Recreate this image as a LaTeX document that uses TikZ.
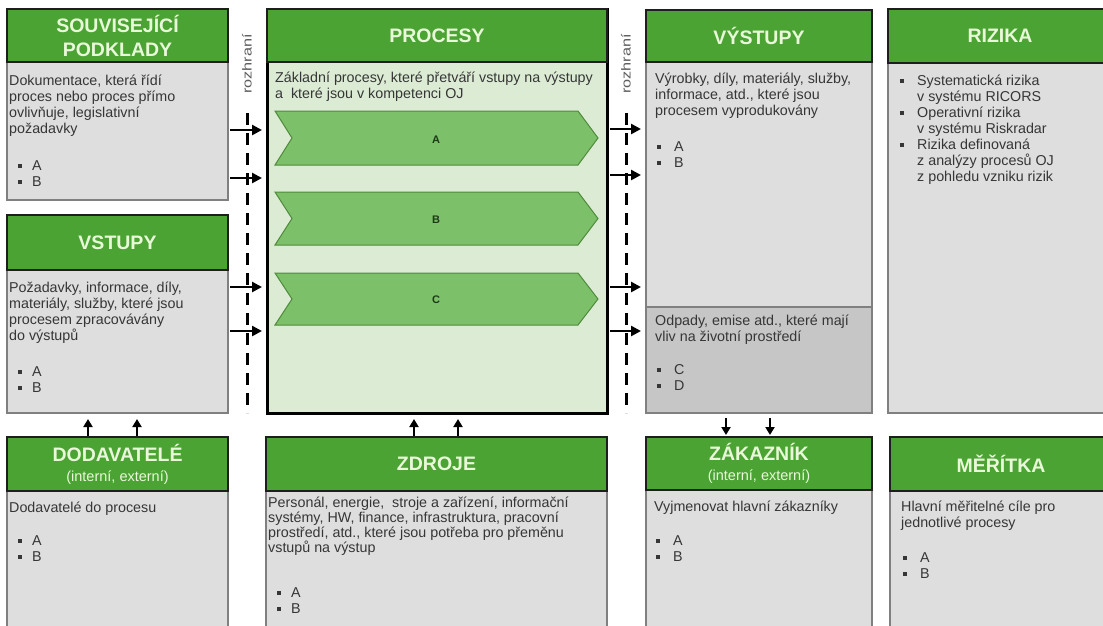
\documentclass[tikz,border=0pt]{standalone}
\usepackage{fontspec}
\setmainfont{Liberation Sans}
\usetikzlibrary{arrows.meta}

\definecolor{hdrgreen}{HTML}{4AA332}
\definecolor{hdrtext}{HTML}{E9F8D9}
\definecolor{hdrline}{HTML}{1E1E1E}
\definecolor{bodygray}{HTML}{DEDEDE}
\definecolor{bodyline}{HTML}{808080}
\definecolor{wastegray}{HTML}{C6C6C6}
\definecolor{procfill}{HTML}{DCECD4}
\definecolor{chevfill}{HTML}{7CC06A}
\definecolor{chevline}{HTML}{4F8A3C}
\definecolor{chevtext}{HTML}{1C3A14}
\definecolor{bodytextc}{HTML}{363636}
\definecolor{ifacetext}{HTML}{5E5E5E}

% small square bullet followed by the item text (left-hand panels)
\newcommand\bul[1]{\hspace*{9pt}\rule[3pt]{4pt}{4pt}\hspace*{10pt}#1}
% same, for the right-hand panels
\newcommand\rbul[1]{\hspace*{2pt}\rule[3pt]{4pt}{4pt}\hspace*{13pt}#1}
% bullet with a hanging continuation
\newcommand\hbul{\hspace*{9pt}\rule[3pt]{4pt}{4pt}\hspace*{13pt}}
\newcommand\hcont{\hspace*{26pt}}
\newcommand\firstln{\rule{0pt}{10pt}}

% one panel: body rectangle plus green header
% #1 body options, #2 name, #3 x1, #4 y1, #5 x2, #6 y2, #7 header bottom, #8 title
\newcommand\ipobox[8]{%
  \node[bodybox, #1, anchor=north west, minimum width={(#5-#3)*1pt},
        minimum height={(#6-#4)*1pt}] (#2) at (#3,#4) {};
  \node[hdrbox, anchor=north west, minimum width={(#5-#3)*1pt},
        minimum height={(#7-#4)*1pt}] (#2h) at (#3,#4) {#8};
}

\begin{document}
\begin{tikzpicture}[x=1pt, y=-1pt,
  bodybox/.style={rectangle, fill=bodygray, draw=bodyline, line width=1.5pt, outer sep=0pt, inner sep=0pt},
  hdrbox/.style={rectangle, fill=hdrgreen, draw=hdrline, line width=2pt, outer sep=0pt, inner sep=1pt,
    text=hdrtext, align=center, font=\bfseries\fontsize{19.5}{24}\selectfont},
  bodytext/.style={anchor=north west, inner sep=0pt, align=left, text=bodytextc,
    font=\fontsize{14.3}{16}\selectfont},
  chev/.style={fill=chevfill, draw=chevline, line width=1pt, line join=miter},
  chevlbl/.style={inner sep=0pt, text=chevtext, font=\bfseries\fontsize{11}{13}\selectfont},
  iface/.style={line width=3pt, dash pattern=on 12pt off 8pt},
  ifacelbl/.style={inner sep=0pt, rotate=90, text=ifacetext, font=\fontsize{13}{15}\selectfont},
  harr/.style={line width=2.6pt, -{Triangle[length=10pt, width=10pt]}},
  varr/.style={line width=2pt, -{Triangle[length=8pt, width=9pt]}}
]
\useasboundingbox (0,0) rectangle (1103,625);
\clip (0,0) rectangle (1103,625);
\fill[white] (0,0) rectangle (1103,625);

% ---- panels ----
\ipobox{}{souv}{7}{9}{228}{200}{62}{SOUVISEJÍCÍ\\PODKLADY}
\ipobox{}{vst}{7}{215}{228}{413}{270}{VSTUPY}
\ipobox{}{dod}{7}{437}{228}{650}{491}{DODAVATELÉ\\[-4pt]{\mdseries\fontsize{14.5}{16}\selectfont(interní, externí)}}
\ipobox{fill=procfill, draw=black, line width=3pt}{proc}{267}{9}{607}{413}{62}{PROCESY}
\ipobox{}{zdr}{266}{437}{607}{650}{491}{ZDROJE}
\ipobox{}{vys}{646}{10}{872}{413}{62}{VÝSTUPY}
\ipobox{}{zak}{646}{437}{872}{650}{490}{ZÁKAZNÍK\\[-4pt]{\mdseries\fontsize{14.5}{16}\selectfont(interní, externí)}}
\ipobox{}{riz}{888}{9}{1112}{413}{63}{RIZIKA}
\ipobox{}{mer}{890}{437}{1112}{650}{491}{MĚŘÍTKA}

% waste section at the bottom of the outputs panel
\node[bodybox, fill=wastegray, anchor=north west, minimum width=226pt, minimum height=106pt]
  (waste) at (646,307) {};

% ---- panel texts ----
\node[bodytext] (souvt) at (9,75) {\firstln Dokumentace, která řídí\\proces nebo proces přímo\\ovlivňuje, legislativní\\požadavky\\[21pt]\bul{A}\\\bul{B}};
\node[bodytext] (vstt) at (9,282) {\firstln Požadavky, informace, díly,\\materiály, služby, které jsou\\procesem zpracovávány\\do výstupů\\[20pt]\bul{A}\\\bul{B}};
\node[bodytext] (proct) at (275,72) {\firstln Základní procesy, které přetváří vstupy na výstupy\\a\ \ které jsou v kompetenci OJ};
\node[bodytext] (vyst) at (655,73) {\firstln Výrobky, díly, materiály, služby,\\informace, atd., které jsou\\procesem vyprodukovány\\[20pt]\rbul{A}\\\rbul{B}};
\node[bodytext] (wastet) at (655,315) {\firstln Odpady, emise atd., které mají\\vliv na životní prostředí\\[17pt]\rbul{C}\\\rbul{D}};
\node[bodytext] (rizt) at (891,75) {\firstln\hbul Systematická rizika\\\hcont v systému RICORS\\\hbul Operativní rizika\\\hcont v systému Riskradar\\\hbul Rizika definovaná\\\hcont z analýzy procesů OJ\\\hcont z pohledu vzniku rizik};
\node[bodytext] (dodt) at (9,502) {\firstln Dodavatelé do procesu\\[17pt]\bul{A}\\\bul{B}};
\node[bodytext, font=\fontsize{14.3}{15}\selectfont] (zdrt) at (268,497) {\firstln Personál, energie,\ \ stroje a zařízení, informační\\systémy, HW, finance, infrastruktura, pracovní\\prostředí, atd., které jsou potřeba pro přeměnu\\vstupů na výstup\\[30pt]\bul{A}\\[1pt]\bul{B}};
\node[bodytext] (zakt) at (654,501) {\firstln Vyjmenovat hlavní zákazníky\\[18pt]\rbul{A}\\\rbul{B}};
\node[bodytext] (mert) at (901,501) {\firstln Hlavní měřitelné cíle pro\\jednotlivé procesy\\[19pt]\rbul{A}\\\rbul{B}};

% ---- process chevrons ----
\draw[chev] (275,111) -- (578,111) -- (598,138) -- (578,165) -- (275,165) -- (292,138) -- cycle;
\draw[chev] (275,192) -- (578,192) -- (598,218.5) -- (578,245) -- (275,245) -- (292,218.5) -- cycle;
\draw[chev] (275,273) -- (578,273) -- (598,299) -- (578,325) -- (275,325) -- (292,299) -- cycle;
\node[chevlbl] (pa) at (436,140) {A};
\node[chevlbl] (pb) at (436,220) {B};
\node[chevlbl] (pc) at (436,300) {C};

% ---- interfaces ----
\draw[iface] (247,113) -- (247,413);
\draw[iface] (626,113) -- (626,413);
\node[ifacelbl] (ifltxt) at (247,64) {\scalebox{1.25}[1]{rozhraní}};
\node[ifacelbl] (ifrtxt) at (626,64) {\scalebox{1.25}[1]{rozhraní}};

% ---- flow arrows ----
\coordinate (r1) at (0,130);
\coordinate (r2) at (0,178);
\coordinate (r3) at (0,287);
\coordinate (r4) at (0,331);
\coordinate (q1) at (0,129);
\coordinate (q2) at (0,175);
\draw[harr, shorten <=2pt, shorten >=5pt] (souv.east |- r1) -- (proc.west |- r1);
\draw[harr, shorten <=2pt, shorten >=5pt] (souv.east |- r2) -- (proc.west |- r2);
\draw[harr, shorten <=2pt, shorten >=5pt] (vst.east |- r3) -- (proc.west |- r3);
\draw[harr, shorten <=2pt, shorten >=5pt] (vst.east |- r4) -- (proc.west |- r4);
\draw[harr, shorten <=3pt, shorten >=5pt] (proc.east |- q1) -- (vys.west |- q1);
\draw[harr, shorten <=3pt, shorten >=5pt] (proc.east |- q2) -- (vys.west |- q2);
\draw[harr, shorten <=3pt, shorten >=5pt] (proc.east |- r3) -- (vys.west |- r3);
\draw[harr, shorten <=3pt, shorten >=5pt] (proc.east |- r4) -- (vys.west |- r4);

\coordinate (u1) at (88,0);
\coordinate (u2) at (137,0);
\coordinate (u3) at (414,0);
\coordinate (u4) at (458,0);
\coordinate (d1) at (726,0);
\coordinate (d2) at (770,0);
\draw[varr, shorten <=1pt, shorten >=6pt] (dodh.north -| u1) -- (vst.south -| u1);
\draw[varr, shorten <=1pt, shorten >=6pt] (dodh.north -| u2) -- (vst.south -| u2);
\draw[varr, shorten <=1pt, shorten >=6pt] (zdrh.north -| u3) -- (proc.south -| u3);
\draw[varr, shorten <=1pt, shorten >=6pt] (zdrh.north -| u4) -- (proc.south -| u4);
\draw[varr, shorten <=5pt, shorten >=2pt] (vys.south -| d1) -- (zakh.north -| d1);
\draw[varr, shorten <=5pt, shorten >=2pt] (vys.south -| d2) -- (zakh.north -| d2);
\end{tikzpicture}
\end{document}
